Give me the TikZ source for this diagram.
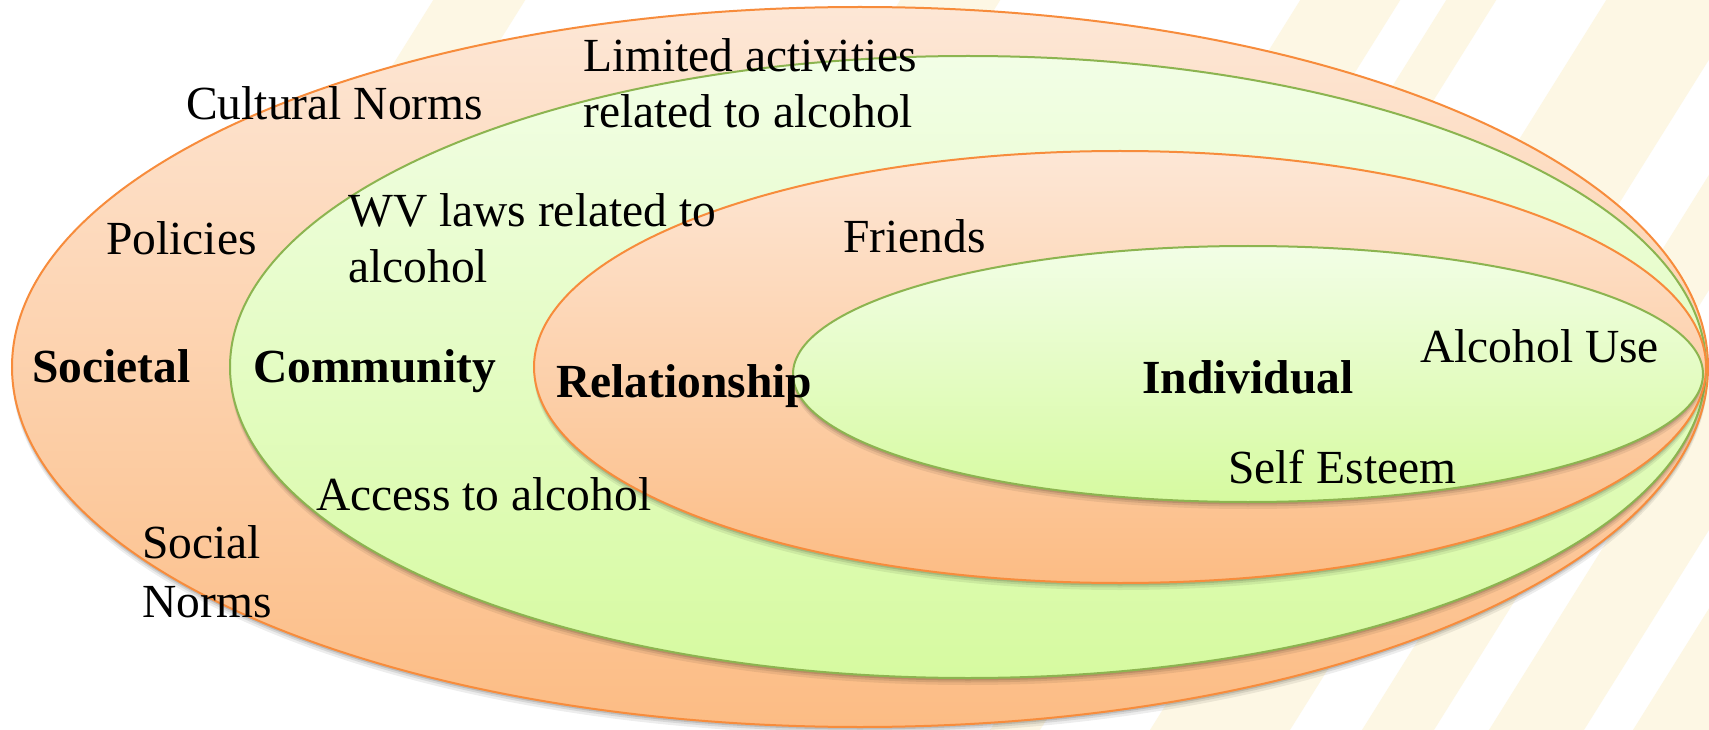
\documentclass[tikz,border=0pt]{standalone}
\usepackage{fontspec}
\setmainfont{Liberation Serif}
\usetikzlibrary{shapes.geometric,shadows}
\definecolor{Cream}{RGB}{253,247,228}
\definecolor{OLine}{RGB}{247,140,60}
\definecolor{GLine}{RGB}{140,180,80}
\definecolor{OTop}{RGB}{253,231,214}
\definecolor{OBot}{RGB}{252,188,132}
\definecolor{GTop}{RGB}{242,254,230}
\definecolor{GBot}{RGB}{214,250,160}
\newcommand\creamband[4]{%
  \fill[Cream] ({#1+0.625*(730-#3)},#3) -- ({#2+0.625*(730-#3)},#3) --
    ({#2+0.625*(730-#4)},#4) -- ({#1+0.625*(730-#4)},#4) -- cycle;}
\begin{document}
\begin{tikzpicture}[x=1pt,y=-1pt,
  lab/.style={anchor=base west, inner sep=0pt, font=\fontsize{47.5}{56}\selectfont},
  blab/.style={anchor=base west, inner sep=0pt, font=\fontsize{47.5}{56}\selectfont\bfseries},
  softshadow/.style={
    drop shadow={shadow xshift=0pt, shadow yshift=-7pt, opacity=0.07, fill=black},
    drop shadow={shadow xshift=0pt, shadow yshift=-4.5pt, opacity=0.09, fill=black},
    drop shadow={shadow xshift=0pt, shadow yshift=-2.5pt, opacity=0.12, fill=black}},
  ring/.style={ellipse, inner sep=0pt, outer sep=0pt, line width=2pt, softshadow},
  ringO/.style={ring, draw=OLine, top color=OTop, bottom color=OBot},
  ringG/.style={ring, draw=GLine, top color=GTop, bottom color=GBot}]
\useasboundingbox (0,0) rectangle (1709,730);
\fill[white] (0,0) rectangle (1709,730);
% faint background stripes
\creamband{-23}{69}{-5}{200}
\creamband{444}{544}{-5}{60}
\creamband{844}{944}{-5}{120}
\creamband{990}{1040}{-5}{740}
\creamband{1150}{1290}{-5}{740}
\creamband{1362}{1434}{-5}{740}
\creamband{1489}{1584}{-5}{740}
\creamband{1633}{1760}{-5}{740}
% nested ellipses
\node[ringO, minimum width=1696pt, minimum height=720pt] (societal) at (860,367) {};
\node[ringG, minimum width=1476pt, minimum height=622pt] (community) at (968,367) {};
\node[ringO, minimum width=1172pt, minimum height=432pt] (relationship) at (1120,367) {};
\node[ringG, minimum width=910pt, minimum height=256pt] (individual) at (1248,374) {};
% labels
\node[lab] (cultural) at (186,120) {Cultural Norms};
\node[lab] (limited1) at (583,72) {Limited activities};
\node[lab] (limited2) at (583,128) {related to alcohol};
\node[lab] (policies) at (106,255) {Policies};
\node[lab] (wv1) at (348,227) {WV laws related to};
\node[lab] (wv2) at (348,283) {alcohol};
\node[blab] (lsoc) at (32,382) {Societal};
\node[blab] (lcom) at (253,382) {Community};
\node[blab] (lrel) at (556,397) {Relationship};
\node[lab] (friends) at (843,253) {Friends};
\node[blab] (lind) at (1142,393) {Individual};
\node[lab] (alcuse) at (1420,362) {Alcohol Use};
\node[lab] (selfest) at (1228,483) {Self Esteem};
\node[lab] (access) at (316,510) {Access to alcohol};
\node[lab] (social1) at (142,558) {Social};
\node[lab] (social2) at (142,617) {Norms};
\end{tikzpicture}
\end{document}
